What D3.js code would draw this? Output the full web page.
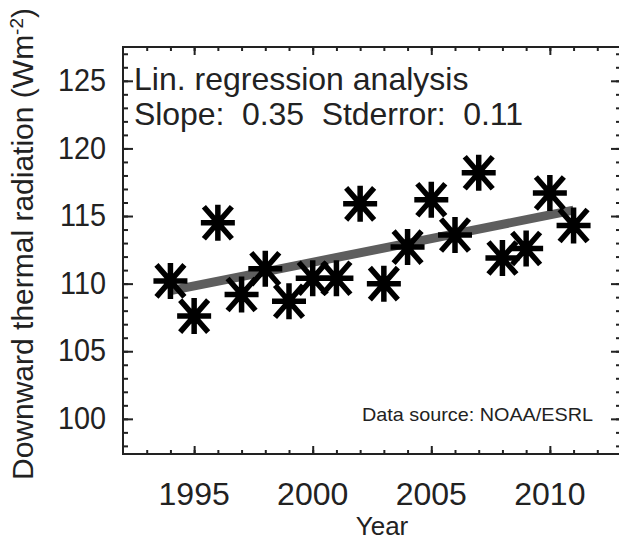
<!DOCTYPE html>
<html>
<head>
<meta charset="utf-8">
<script src="https://cdn.jsdelivr.net/npm/d3@7"></script>
<style>
  html, body { margin: 0; padding: 0; background: #fff; }
  svg { display: block; font-family: "Liberation Sans", Arial, sans-serif; }
</style>
</head>
<body>
<div id="chart"></div>
<script>
// annual mean downward thermal radiation, 1994-2011
const years = [1994, 1995, 1996, 1997, 1998, 1999, 2000, 2001, 2002,
               2003, 2004, 2005, 2006, 2007, 2008, 2009, 2010, 2011];
const radiation = [110.2, 107.6, 114.5, 109.2, 111.1, 108.7, 110.4, 110.4, 115.9,
                   110.0, 112.7, 116.2, 113.6, 118.2, 111.9, 112.6, 116.7, 114.3];
const xMajorTicks = [1995, 2000, 2005, 2010];
const yMajorTicks = [100, 105, 110, 115, 120, 125];
const slope = 0.35;
const stderror = 0.11;

const width = 619, height = 543;
const margin = { top: 47, right: -2, bottom: 89, left: 123 };
const plotW = width - margin.left - margin.right;
const plotH = height - margin.top - margin.bottom;

const svg = d3.select('#chart')
  .append('svg')
  .attr('width', width)
  .attr('height', height);

const g = svg.append('g')
  .attr('transform', `translate(${margin.left},${margin.top})`);

const xScale = d3.scaleLinear().domain([1992, 2013]).range([0, plotW]);
const yScale = d3.scaleLinear().domain([97.4, 127.5]).range([plotH, 0]);

const minorX = d3.range(1993, 2013);
const minorY = d3.range(98, 128);

// ticks point inward on all four sides
function tickAxis(axis, scale, values, size) {
  return axis(scale).tickValues(values).tickSize(-size).tickFormat('');
}

const axes = [
  { axis: d3.axisBottom, tr: `translate(0,${plotH})`, scale: xScale, minor: minorX, major: xMajorTicks, big: 8, small: 4 },
  { axis: d3.axisTop, tr: 'translate(0,0)', scale: xScale, minor: minorX, major: xMajorTicks, big: 8, small: 4 },
  { axis: d3.axisLeft, tr: 'translate(0,0)', scale: yScale, minor: minorY, major: yMajorTicks, big: 10, small: 5 },
  { axis: d3.axisRight, tr: `translate(${plotW},0)`, scale: yScale, minor: minorY, major: yMajorTicks, big: 10, small: 5 }
];

axes.forEach(a => {
  [[a.minor, a.small], [a.major, a.big]].forEach(([vals, size]) => {
    const ax = g.append('g')
      .attr('transform', a.tr)
      .call(tickAxis(a.axis, a.scale, vals, size));
    ax.select('.domain').remove();
    ax.selectAll('line').attr('stroke', '#222').attr('stroke-width', 2);
  });
});

// frame
g.append('rect')
  .attr('x', 0).attr('y', 0)
  .attr('width', plotW).attr('height', plotH)
  .attr('fill', 'none')
  .attr('stroke', '#222')
  .attr('stroke-width', 2);

// tick labels
g.selectAll('.xlabel')
  .data(xMajorTicks)
  .enter()
  .append('text')
  .attr('class', 'xlabel')
  .attr('x', d => xScale(d))
  .attr('y', plotH + 51)
  .attr('text-anchor', 'middle')
  .style('font-size', '32px')
  .style('fill', '#222')
  .text(d => d);

g.selectAll('.ylabel')
  .data(yMajorTicks)
  .enter()
  .append('text')
  .attr('class', 'ylabel')
  .attr('x', -17)
  .attr('y', d => yScale(d))
  .attr('dy', '0.32em')
  .attr('text-anchor', 'end')
  .style('font-size', '32px')
  .style('fill', '#222')
  .text(d => d)
  .each(function () {
    const w = this.getComputedTextLength();
    d3.select(this).attr('textLength', w * 0.9).attr('lengthAdjust', 'spacingAndGlyphs');
  });

// regression line through the mean point
const xMean = d3.mean(years);
const yMean = d3.mean(radiation);
const fit = yr => yMean + slope * (yr - xMean);
const x0 = years[0], x1 = years[years.length - 1];

g.append('line')
  .attr('x1', xScale(x0)).attr('y1', yScale(fit(x0)))
  .attr('x2', xScale(x1)).attr('y2', yScale(fit(x1)))
  .attr('stroke', '#5e5e5e')
  .attr('stroke-width', 9);

// asterisk markers
const asterisk = {
  draw(ctx) {
    ctx.moveTo(-17, 0); ctx.lineTo(17, 0);
    ctx.moveTo(0, -18); ctx.lineTo(0, 18);
    ctx.moveTo(-14, -16); ctx.lineTo(14, 16);
    ctx.moveTo(-14, 16); ctx.lineTo(14, -16);
  }
};

g.selectAll('.pt')
  .data(years.map((yr, i) => ({ yr, v: radiation[i] })))
  .enter()
  .append('path')
  .attr('class', 'pt')
  .attr('transform', d => `translate(${xScale(d.yr)},${yScale(d.v)})`)
  .attr('d', d3.symbol().type(asterisk))
  .attr('fill', 'none')
  .attr('stroke', '#000')
  .attr('stroke-width', 5.5);

// annotation
g.append('text')
  .attr('x', 11)
  .attr('y', 43)
  .style('font-size', '32px')
  .style('fill', '#222')
  .text('Lin. regression analysis');

g.append('text')
  .attr('x', 11)
  .attr('y', 78)
  .attr('textLength', 389)
  .style('font-size', '32px')
  .style('fill', '#222')
  .style('white-space', 'pre')
  .attr('xml:space', 'preserve')
  .text(`Slope:  ${slope.toFixed(2)}  Stderror:  ${stderror.toFixed(2)}`);

g.append('text')
  .attr('x', 470)
  .attr('y', 374)
  .attr('text-anchor', 'end')
  .attr('textLength', 231)
  .attr('lengthAdjust', 'spacingAndGlyphs')
  .style('font-size', '19px')
  .style('fill', '#222')
  .text('Data source: NOAA/ESRL');

// axis titles
svg.append('text')
  .attr('x', 382)
  .attr('y', 535)
  .attr('text-anchor', 'middle')
  .style('font-size', '26px')
  .style('fill', '#222')
  .text('Year');

const yTitle = svg.append('text')
  .attr('transform', 'translate(33,244) rotate(-90)')
  .attr('text-anchor', 'middle')
  .style('font-size', '30px')
  .style('fill', '#222');
yTitle.append('tspan').text('Downward thermal radiation (Wm');
yTitle.append('tspan').attr('baseline-shift', 'super').style('font-size', '19px').text('-2');
yTitle.append('tspan').text(')');
</script>
</body>
</html>
